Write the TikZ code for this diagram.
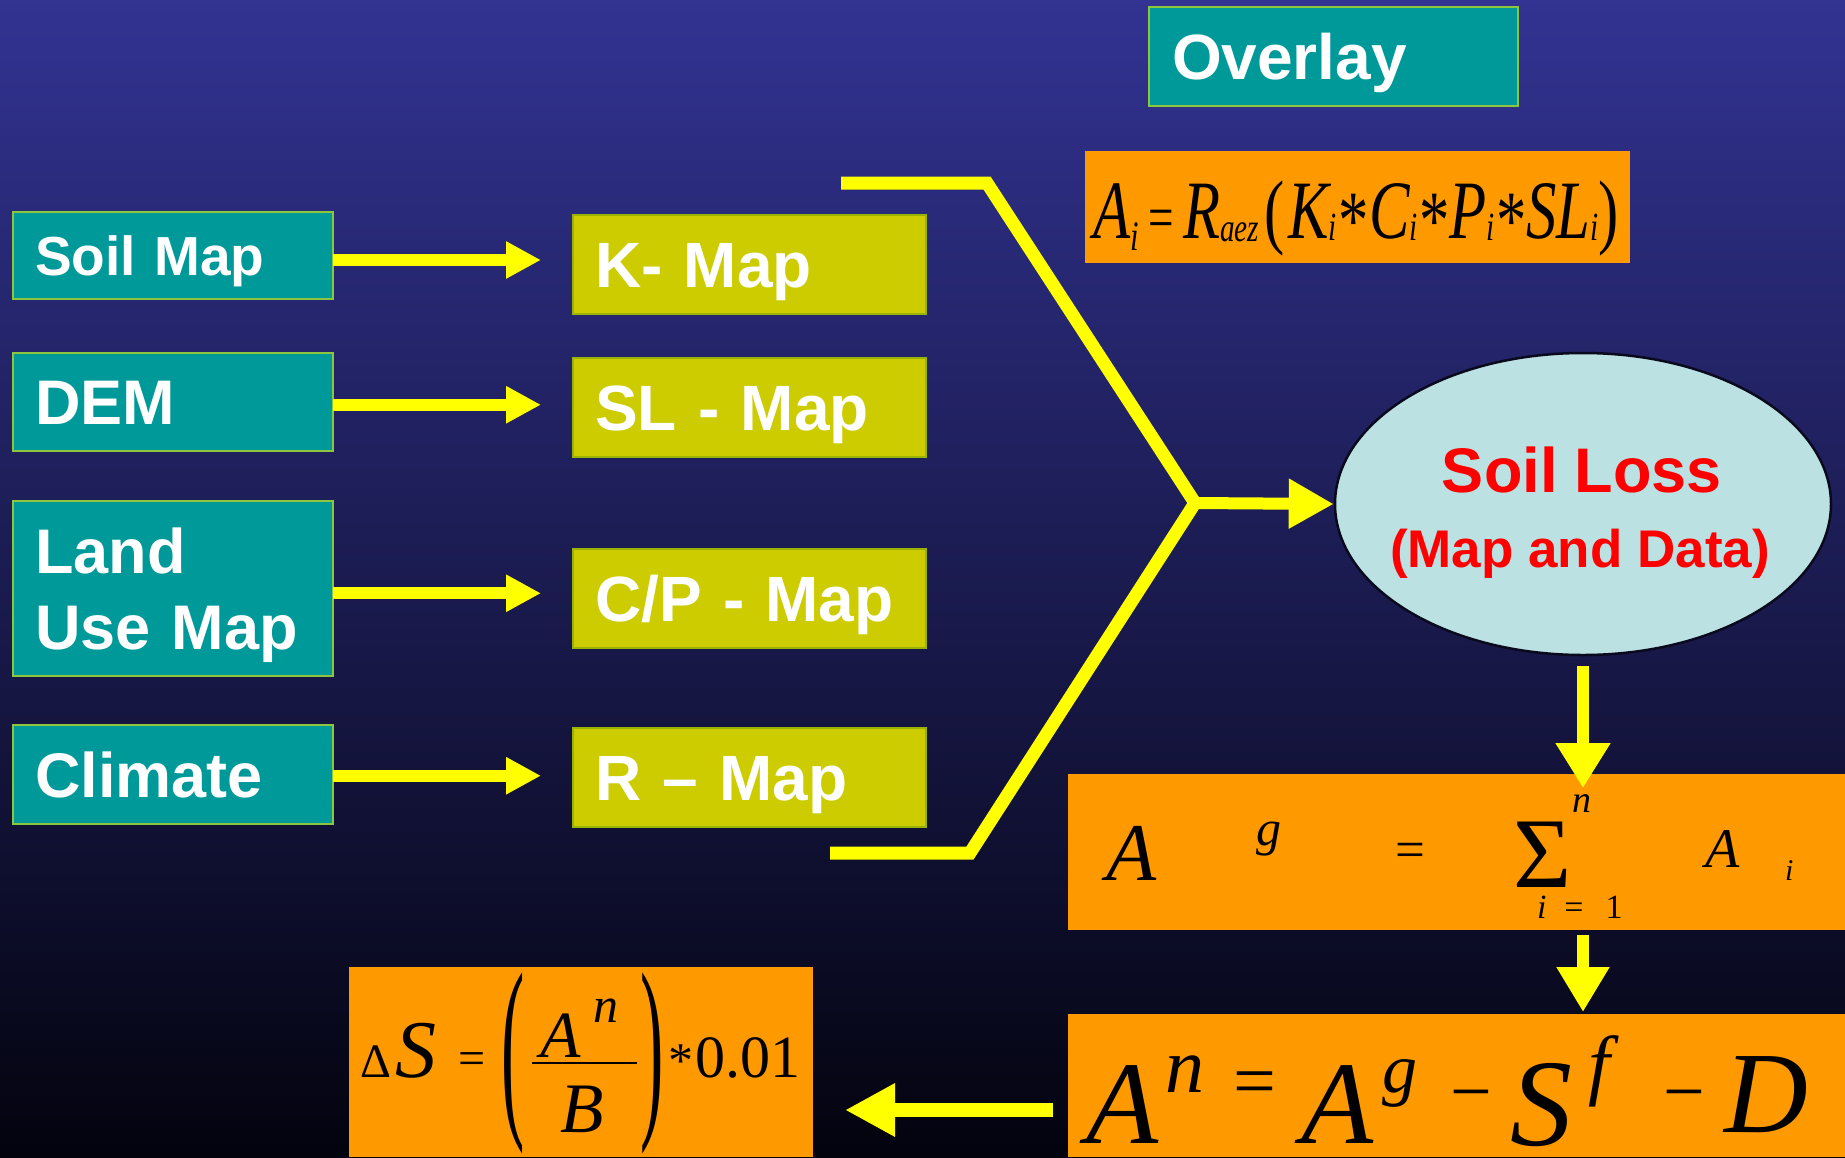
\documentclass[tikz,border=0pt]{standalone}
\usepackage{fontspec}
\setmainfont{Liberation Sans}
\newfontfamily\tms{Liberation Serif}
\usetikzlibrary{arrows.meta,shapes.geometric,calc}
\newcommand\fsz[1]{\fontsize{#1}{#1}\selectfont}

\definecolor{tealbox}{RGB}{0,153,153}
\definecolor{olivebox}{RGB}{204,204,0}
\definecolor{boxedge}{RGB}{140,198,63}
\definecolor{olivedge}{RGB}{153,179,0}
\definecolor{orangebox}{RGB}{255,153,0}
\definecolor{arrowyellow}{RGB}{255,255,0}
\definecolor{lossfill}{RGB}{187,225,226}
\definecolor{lossedge}{RGB}{10,10,30}
\definecolor{bgtop}{RGB}{50,51,146}
\definecolor{bgmid}{RGB}{33,32,100}
\definecolor{bgbot}{RGB}{3,3,14}

\begin{document}
\begin{tikzpicture}[x=1pt,y=-1pt,
  srcbox/.style={draw=boxedge, line width=2pt, fill=tealbox, text=white,
    font=\bfseries\fsz{63}, inner xsep=22pt, inner ysep=0pt, outer sep=0pt,
    text width=276pt, align=left, text height=45pt, text depth=0pt, minimum height=#1},
  mapbox/.style={draw=olivedge, line width=2pt, fill=olivebox, text=white,
    font=\bfseries\fsz{64}, inner xsep=22pt, inner ysep=0pt, outer sep=0pt,
    text width=309pt, align=left, text height=46pt, text depth=0pt, minimum height=99pt},
  ovbox/.style={draw=boxedge, line width=2pt, fill=tealbox, text=white,
    font=\bfseries\fsz{64}, inner xsep=23pt, inner ysep=0pt, outer sep=0pt,
    text width=323pt, align=left, text height=46pt, text depth=0pt, minimum height=99pt},
  ofbox/.style={fill=orangebox, inner sep=0pt, outer sep=0pt},
  fm/.style={inner sep=0pt, outer sep=0pt, anchor=base west, text=black, font=\tms\itshape},
  fmup/.style={inner sep=0pt, outer sep=0pt, anchor=base west, text=black, font=\tms},
  losstext/.style={inner sep=0pt, anchor=base, text=red, font=\bfseries},
  flow/.style={draw=arrowyellow, line width=12pt, -{Triangle[length=35pt,width=35pt]}},
  bracket/.style={draw=arrowyellow, line width=13pt}
]

% background
\shade[top color=bgtop, middle color=bgmid, bottom color=bgbot] (0,0) rectangle (1845,1157);
\useasboundingbox (0,0) rectangle (1845,1157);

% input layers
\node[srcbox=87pt, font=\bfseries\fsz{55}, text height=39pt] (soil) at (173,255.5) {Soil Map};
\node[srcbox=98pt] (dem) at (173,402) {DEM};
\node[srcbox=175pt, font=\bfseries\fontsize{63}{76}\selectfont, text depth=76pt] (land) at (173,588.5) {Land\\Use Map};
\node[srcbox=99pt] (climate) at (173,774.5) {Climate};

% factor maps
\node[mapbox] (kmap) at (749.5,264.5) {K- Map};
\node[mapbox] (slmap) at (749.5,407.5) {SL - Map};
\node[mapbox] (cpmap) at (749.5,598) {C/P - Map};
\node[mapbox] (rmap) at (749.5,777) {R – Map};

\foreach \s/\t in {soil/kmap, dem/slmap, land/cpmap, climate/rmap}{
  \path (\s.center) -- (\t.center) coordinate[pos=0.5] (\s-mid);
  \draw[flow, shorten >=32pt] (\s.east |- \s-mid) -- (\t.west |- \s-mid);
}

% overlay title
\node[ovbox] (overlay) at (1333.5,56.5) {Overlay};

% A_i formula
\node[ofbox, minimum width=545pt, minimum height=112pt] (aibox) at (1357.5,207) {};
\node[fm] (aiF) at (1093,238) {\resizebox{526pt}{\height}{\fsz{83}A\raisebox{-12pt}{\fsz{42}i}\hspace{14pt}{\upshape\fsz{62}=}\hspace{12pt}R\raisebox{-3pt}{\fsz{40}aez}\hspace{7pt}{\upshape(}\hspace{5pt}K\raisebox{-2pt}{\fsz{40}i}\hspace{3pt}\raisebox{-10pt}{\upshape *}C\raisebox{-2pt}{\fsz{40}i}\hspace{2pt}\raisebox{-10pt}{\upshape *}P\raisebox{-2pt}{\fsz{40}i}\hspace{2pt}\raisebox{-10pt}{\upshape *}SL\raisebox{-2pt}{\fsz{40}i}{\upshape )}}};

% soil loss
\node[ellipse, draw=lossedge, line width=2.5pt, fill=lossfill, minimum width=496pt,
  minimum height=302pt, inner sep=0pt] (loss) at (1583,504) {};
\node[losstext, font=\bfseries\fsz{63}] (lossTitle) at (1582,492) {Soil Loss};
\node[losstext, font=\bfseries\fsz{53}] (lossSub) at (1580,567) {(Map and Data)};

% overlay bracket
\coordinate (brTopEnd) at (841,183);
\coordinate (brTopCorner) at (987,183);
\coordinate (brJoin) at (1195,503);
\coordinate (brBotCorner) at (970,853);
\coordinate (brBotEnd) at (830,853);
\draw[bracket] (brTopEnd) -- (brTopCorner) -- (brJoin) -- (brBotCorner) -- (brBotEnd);
\draw[flow, -{Triangle[length=45pt,width=47pt]}] (brJoin) -- (loss.west);

% gross soil loss
\node[ofbox, minimum width=777pt, minimum height=156pt] (agbox) at (1456.5,852) {};
\node[fm] (agA) at (1106,880) {\fsz{82}A};
\node[fm] (agG) at (1256,845) {\fsz{50}g};
\node[fmup] (agEq) at (1395,867) {\fsz{53}=};
\node[fmup] (agSum) at (1513,887) {\fsz{100}Σ};
\node[fm] (agN) at (1572,812) {\fsz{38}n};
\node[fm] (agLim) at (1537,918) {\fsz{34}i\hspace{18pt}{\upshape =}\hspace{22pt}{\upshape 1}};
\node[fm] (agAi) at (1705,867) {\fsz{56}A};
\node[fm] (agI) at (1785,880) {\fsz{30}i};

% net soil loss
\node[ofbox, minimum width=777pt, minimum height=143pt] (anbox) at (1456.5,1085.5) {};
\node[fm] (anA) at (1086,1143) {\fsz{118}A};
\node[fm] (anN) at (1165,1092) {\fsz{78}n};
\node[fmup] (anEq) at (1233,1106) {\fsz{76}=};
\node[fm] (anA2) at (1301,1143) {\fsz{118}A};
\node[fm] (anG) at (1382,1092) {\fsz{70}g};
\node[fmup] (anM1) at (1450,1116) {\fsz{74}−};
\node[fm] (anS) at (1510,1145) {\fsz{124}S};
\node[fm] (anF) at (1588,1090) {\fsz{78}f};
\node[fmup] (anM2) at (1663,1116) {\fsz{74}−};
\node[fm] (anD) at (1724,1132) {\fsz{116}D};

% change in soil depth
\node[ofbox, minimum width=464pt, minimum height=190pt] (dsbox) at (581,1062) {};
\node[fmup] (dsDelta) at (360,1077) {\fsz{48}Δ};
\node[fm] (dsS) at (395,1077) {\fsz{82}S};
\node[fmup] (dsEq) at (458,1074) {\fsz{48}=};
\node[fmup, anchor=center] (dsLp) at (513,1063) {\scalebox{0.35}[1]{\fsz{200}(}};
\node[fm] (dsA) at (540,1057) {\fsz{66}A};
\node[fm] (dsN) at (593,1022) {\fsz{50}n};
\draw[line width=2.5pt] (532,1063) -- (637,1063);
\node[fm] (dsB) at (560,1132) {\fsz{71}B};
\node[fmup, anchor=center] (dsRp) at (652,1063) {\scalebox{0.35}[1]{\fsz{200})}};
\node[fmup] (dsStar) at (668,1077) {\fsz{50}*};
\node[fmup] (dsVal) at (695,1077) {\fsz{60}0.01};

% flow between results
\draw[flow, -{Triangle[length=45pt,width=52pt]}, shorten <=10pt]
  (loss.south) -- ($(loss.south |- agbox.north)+(0,14)$);
\draw[flow, -{Triangle[length=45pt,width=50pt]}, shorten <=5pt, shorten >=2pt]
  (loss.south |- agbox.south) -- (loss.south |- anbox.north);
\coordinate (leftY) at (0,1110);
\draw[flow, line width=14pt, -{Triangle[length=50pt,width=50pt]}, shorten <=15pt, shorten >=32pt]
  (anbox.west |- leftY) -- (dsbox.east |- leftY);

\end{tikzpicture}
\end{document}
